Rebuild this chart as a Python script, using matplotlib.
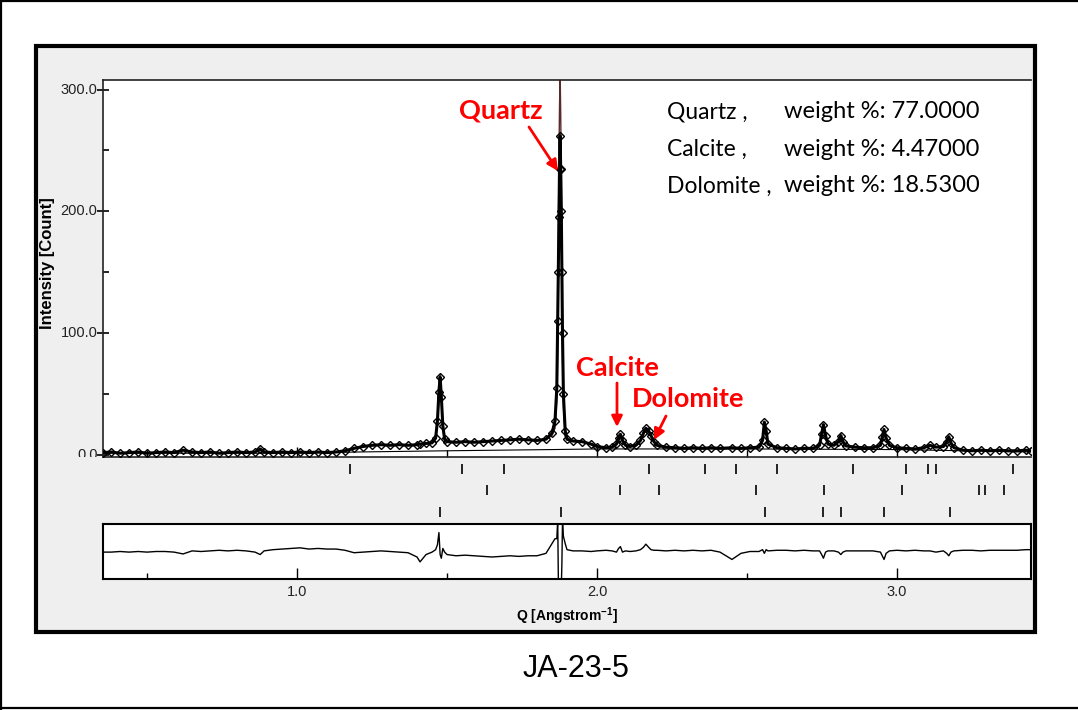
import matplotlib
matplotlib.use("Agg")
import matplotlib.pyplot as plt
from matplotlib.patches import Rectangle, FancyArrowPatch
from matplotlib.lines import Line2D
from matplotlib.transforms import Bbox
from matplotlib.ticker import MultipleLocator
import numpy as np

# ---------------- data ----------------
q_values = [
    0.353, 0.38, 0.41, 0.44, 0.47, 0.50, 0.53, 0.56, 0.59, 0.62, 0.65, 0.68, 0.71, 0.74,
    0.77, 0.80, 0.83, 0.86, 0.877, 0.89, 0.92, 0.95, 0.98, 1.01, 1.04, 1.07, 1.10, 1.13,
    1.16, 1.19, 1.22, 1.25, 1.28, 1.31, 1.34, 1.37, 1.40, 1.41, 1.43, 1.45, 1.462, 1.468,
    1.473, 1.477, 1.481, 1.486, 1.492, 1.50, 1.53, 1.56, 1.59, 1.62, 1.65, 1.68, 1.71,
    1.74, 1.77, 1.80, 1.83, 1.85, 1.86, 1.866, 1.869, 1.871, 1.873, 1.875, 1.877, 1.879,
    1.881, 1.883, 1.885, 1.888, 1.894, 1.90, 1.92, 1.95, 1.98, 2.00, 2.03, 2.05, 2.065,
    2.072, 2.078, 2.085, 2.095, 2.11, 2.13, 2.145, 2.155, 2.163, 2.172, 2.18, 2.19, 2.20,
    2.23, 2.26, 2.29, 2.32, 2.35, 2.38, 2.41, 2.45, 2.48, 2.51, 2.54, 2.552, 2.558, 2.564,
    2.57, 2.60, 2.63, 2.66, 2.69, 2.72, 2.742, 2.749, 2.755, 2.762, 2.77, 2.79, 2.805,
    2.813, 2.82, 2.83, 2.86, 2.89, 2.92, 2.945, 2.951, 2.957, 2.964, 2.975, 3.00, 3.03,
    3.06, 3.09, 3.11, 3.13, 3.155, 3.166, 3.173, 3.18, 3.19, 3.22, 3.25, 3.28, 3.31, 3.34,
    3.37, 3.40, 3.43, 3.447,
]
obs_counts = [
    2.0, 2.5, 1.5, 2.0, 2.5, 1.5, 2.0, 2.5, 2.0, 4.0, 2.5, 2.0, 2.5, 1.5,
    2.0, 2.5, 2.0, 2.5, 5.0, 2.5, 2.0, 2.5, 2.0, 2.5, 2.0, 2.5, 2.0, 2.5,
    3.5, 5.5, 7.0, 8.0, 8.5, 8.0, 8.5, 8.0, 8.5, 9.0, 9.5, 10.0, 14.0, 28.0,
    52.0, 64.0, 48.0, 24.0, 13.0, 11.0, 10.5, 11.0, 10.5, 11.0, 11.5, 12.0, 12.5,
    13.0, 12.5, 12.0, 13.0, 18.0, 28.0, 55.0, 110.0, 150.0, 195.0, 235.0, 262.0, 235.0,
    200.0, 150.0, 100.0, 50.0, 20.0, 13.0, 11.5, 11.0, 9.0, 7.0, 6.0, 6.5, 9.0,
    14.0, 17.0, 12.0, 8.0, 7.0, 8.0, 12.0, 18.0, 22.0, 20.0, 16.0, 11.0, 8.0,
    6.5, 6.0, 5.5, 6.0, 5.5, 6.0, 5.5, 6.0, 5.5, 6.0, 6.5, 12.0, 27.0, 20.0,
    9.0, 6.0, 5.5, 5.0, 5.5, 5.5, 8.0, 17.0, 25.0, 16.0, 9.0, 8.0, 11.0,
    16.0, 11.0, 7.5, 6.5, 6.0, 6.0, 8.0, 15.0, 21.0, 14.0, 8.0, 6.0, 5.5,
    5.0, 6.0, 8.0, 6.5, 7.0, 11.0, 15.0, 10.0, 6.0, 4.0, 3.5, 4.0, 3.5, 4.0,
    3.5, 3.5, 4.0, 3.5,
]
calc_counts = [
    2.0, 2.5, 1.5, 2.0, 2.5, 1.5, 2.0, 2.5, 2.0, 4.0, 2.5, 2.0, 2.5, 1.5,
    2.0, 2.5, 2.0, 2.5, 5.0, 2.5, 2.0, 2.5, 2.0, 2.5, 2.0, 2.5, 2.0, 2.5,
    3.5, 5.5, 7.0, 8.0, 8.5, 8.0, 8.5, 8.0, 8.5, 9.0, 9.5, 10.0, 13.0, 25.0,
    45.0, 66.0, 50.0, 22.0, 13.0, 11.0, 10.5, 11.0, 10.5, 11.0, 11.5, 12.0, 12.5,
    13.0, 12.5, 12.0, 13.0, 16.0, 22.0, 45.0, 85.0, 170.0, 240.0, 285.0, 315.0, 280.0,
    235.0, 165.0, 80.0, 40.0, 15.0, 13.0, 11.5, 11.0, 9.0, 7.0, 6.0, 6.5, 9.0,
    14.0, 17.0, 12.0, 8.0, 7.0, 8.0, 12.0, 18.0, 22.0, 20.0, 16.0, 11.0, 8.0,
    6.5, 6.0, 5.5, 6.0, 5.5, 6.0, 5.5, 6.0, 5.5, 6.0, 6.5, 12.0, 27.0, 20.0,
    9.0, 6.0, 5.5, 5.0, 5.5, 5.5, 8.0, 17.0, 25.0, 16.0, 9.0, 8.0, 11.0,
    16.0, 11.0, 7.5, 6.5, 6.0, 6.0, 8.0, 15.0, 21.0, 14.0, 8.0, 6.0, 5.5,
    5.0, 6.0, 8.0, 6.5, 7.0, 11.0, 15.0, 10.0, 6.0, 4.0, 3.5, 4.0, 3.5, 4.0,
    3.5, 3.5, 4.0, 3.5,
]
diff_counts = [
    -1.0, -1.0, -0.5, -1.0, -0.5, -1.0, -0.5, -0.5, -1.0, -2.5, 0.0, -0.5, 0.0, 0.5,
    0.0, 0.5, 0.0, -1.0, -3.0, 0.0, 1.0, 1.5, 2.0, 2.5, 1.5, 2.0, 1.5, 1.5,
    0.5, -1.5, -1.0, -0.5, 0.0, -0.5, -1.0, -1.5, -5.0, -9.0, -3.0, -1.0, 1.0, 5.0,
    15.0, -3.0, -6.0, 2.0, -1.0, -3.0, -4.0, -3.5, -4.0, -4.5, -5.0, -4.5, -4.0,
    -4.5, -4.0, -4.0, -2.0, 6.0, 10.0, 10.0, 25.0, -20.0, -45.0, -45.0, -53.0, -40.0,
    -30.0, -10.0, 25.0, 12.0, 6.0, 1.0, 0.0, 0.0, -0.5, 0.0, 0.5, 0.0, -1.0,
    2.0, 3.5, -1.0, 0.0, -0.5, 0.0, 1.0, 3.0, 5.5, 3.0, 1.0, 0.5, 0.5,
    0.0, 0.5, 0.0, 0.5, 0.0, 0.5, -1.0, -7.0, -2.0, -0.5, -0.5, 1.0, -2.0, 1.0,
    0.0, 0.5, 0.5, 0.0, 0.5, 0.0, 0.0, -3.0, -6.0, -1.0, 0.0, 0.0, -1.0,
    -3.0, -1.0, 0.0, 0.0, 0.0, 0.0, -1.0, -4.0, -7.0, -2.0, 0.0, 0.5, 0.0,
    0.5, 0.0, 0.0, -1.0, 0.0, -2.0, -4.0, -1.0, 0.0, 0.5, 0.5, 0.0, 0.5, 0.5,
    0.5, 0.5, 1.0, 1.0,
]
background_q = [0.353, 1.0, 1.2, 1.5, 1.85, 2.0, 2.5, 3.0, 3.447]
background_counts = [1.5, 1.5, 2.5, 3.5, 4.5, 5.0, 5.0, 4.5, 2.5]

# reflection positions for each phase (Q, 1/Angstrom)
dolomite_q = [1.177, 1.550, 1.690, 2.173, 2.360, 2.463, 2.600, 2.853, 3.030, 3.103, 3.130, 3.387]
calcite_q = [1.633, 2.077, 2.207, 2.530, 2.757, 3.017, 3.273, 3.293, 3.357]
quartz_q = [1.477, 1.880, 2.560, 2.753, 2.813, 2.957, 3.177]

phase_names = ["Quartz ,", "Calcite ,", "Dolomite ,"]
phase_weights = ["77.0000", "4.47000", "18.5300"]

y_ticks = [0.0, 100.0, 200.0, 300.0]
x_ticks = [1.0, 2.0, 3.0]

q_arr = np.array(q_values)
obs = np.array(obs_counts)
calc = np.array(calc_counts)
diff = np.array(diff_counts)

# ---------------- figure ----------------
W, H = 1078, 710
fig = plt.figure(figsize=(W / 100, H / 100), dpi=100)
fig.patch.set_facecolor("white")


def fx(x):
    return x / W


def fy(y):
    return 1 - y / H


def box(x0, y0, x1, y1):
    return [fx(x0), fy(y1), (x1 - x0) / W, (y1 - y0) / H]


narrow = ["Liberation Sans Narrow", "Liberation Sans", "DejaVu Sans"]
sans = ["Liberation Sans", "DejaVu Sans"]
label_font = ["Lato", "DejaVu Sans"]
plt.rcParams["mathtext.fontset"] = "custom"
plt.rcParams["mathtext.rm"] = "Liberation Sans"
plt.rcParams["mathtext.bf"] = "Liberation Sans:bold"

# outer page border (left, top, bottom)
for xs, ys in [([fx(1), fx(1)], [fy(0), fy(709)]),
               ([0, 1], [fy(1), fy(1)]),
               ([0, 1], [fy(708), fy(708)])]:
    fig.add_artist(Line2D(xs, ys, color="black", lw=1.6, transform=fig.transFigure))

# grey panel with heavy frame
fig.add_artist(Rectangle((fx(36), fy(632)), (1035 - 36) / W, (632 - 46) / H,
                         transform=fig.transFigure, facecolor="#efefef",
                         edgecolor="black", lw=3.0, zorder=0))

xlim = (0.353, 3.447)

# ---- main pattern panel ----
ax = fig.add_axes(box(103, 80, 1031, 457))
ax.set_facecolor("white")
ax.set_xlim(*xlim)
ax.set_ylim(-1.6, 307.8)
ax.plot(background_q, background_counts, color="black", lw=0.8, zorder=2)
ax.plot(q_arr, calc, color="#5a2a2a", lw=1.0, zorder=2.5)
ax.plot(q_arr, obs, color="black", lw=2.2, solid_joinstyle="round", zorder=3)
ax.plot(q_arr, obs, ls="none", marker="D", ms=4.0, mfc="none", mec="black",
        mew=1.0, zorder=3)
for side in ["left", "top", "bottom"]:
    ax.spines[side].set_color("#222222")
    ax.spines[side].set_linewidth(1.2)
ax.spines["right"].set_visible(False)
ax.yaxis.set_major_locator(MultipleLocator(100))
ax.yaxis.set_minor_locator(MultipleLocator(50))
ax.xaxis.set_major_locator(MultipleLocator(1.0))
ax.xaxis.set_minor_locator(MultipleLocator(0.5))
ax.tick_params(axis="y", which="major", direction="inout", length=8.5, width=1.2,
               labelleft=False)
ax.tick_params(axis="y", which="minor", direction="in", length=4.5, width=1.2)
ax.tick_params(axis="x", which="major", direction="in", length=7, width=1.0,
               labelbottom=False)
ax.tick_params(axis="x", which="minor", direction="in", length=5, width=1.0)

clip = Bbox([[0, H - 457], [W, H]])
for v in y_ticks:
    t = ax.text(-0.006, v, f"{v:.1f}", transform=ax.get_yaxis_transform(),
                ha="right", va="center", fontsize=10.5, family=narrow, color="#222222")
    t.set_clip_box(clip)
    t.set_clip_on(True)

fig.text(fx(48), fy(263), "Intensity [Count]", rotation=90, ha="center", va="center",
         fontsize=12, fontweight="bold", family=sans)

# phase weight fractions
for i, (name, wt) in enumerate(zip(phase_names, phase_weights)):
    yy = fy(112 + 37 * i)
    fig.text(fx(667), yy, name, ha="left", va="center", fontsize=16.5, family=label_font)
    fig.text(fx(784), yy, f"weight %: {wt}", ha="left", va="center", fontsize=17,
             family=label_font)

# peak annotations
red_font = dict(color="red", fontsize=19.5, fontweight="bold", family=label_font)
arrow = dict(arrowstyle="-|>", color="red", lw=2.0, mutation_scale=16, shrinkA=0, shrinkB=0)
fig.text(fx(501), fy(110), "Quartz", ha="center", va="center", **red_font)
fig.add_artist(FancyArrowPatch((fx(529), fy(127)), (fx(558), fy(171)),
                               transform=fig.transFigure, **arrow))
fig.text(fx(617), fy(368), "Calcite", ha="center", va="center", **red_font)
fig.add_artist(FancyArrowPatch((fx(617), fy(383)), (fx(617), fy(427)),
                               transform=fig.transFigure, **arrow))
fig.text(fx(688), fy(399), "Dolomite", ha="center", va="center", **red_font)
fig.add_artist(FancyArrowPatch((fx(666), fy(416)), (fx(654), fy(440)),
                               transform=fig.transFigure, **arrow))

# ---- reflection markers ----
axm = fig.add_axes(box(103, 458, 1031, 520))
axm.set_xlim(*xlim)
axm.set_ylim(520, 458)
axm.axis("off")
for qs, yc in [(dolomite_q, 469), (calcite_q, 490), (quartz_q, 512)]:
    axm.vlines(qs, yc - 5, yc + 5, color="black", lw=1.2)

# ---- difference panel ----
axd = fig.add_axes(box(103, 524, 1031, 579))
axd.set_facecolor("white")
axd.set_xlim(*xlim)
axd.set_ylim(-23, 22)
axd.plot(q_arr, diff, color="black", lw=1.0)
for s in axd.spines.values():
    s.set_linewidth(1.5)
    s.set_color("black")
axd.set_yticks([])
axd.xaxis.set_minor_locator(MultipleLocator(0.5))
axd.set_xticks(x_ticks)
axd.set_xticklabels([f"{v:.1f}" for v in x_ticks], family=narrow, fontsize=10.5,
                    color="#222222")
axd.tick_params(axis="x", which="major", direction="in", length=8, width=1.0, pad=4)
axd.tick_params(axis="x", which="minor", direction="in", length=4.5, width=1.0)

fig.text(fx(567), fy(616), r"Q [Angstrom$^{\mathbf{-1}}$]", ha="center", va="center",
         fontsize=10, fontweight="bold", family=sans)

fig.text(fx(576), fy(669), "JA-23-5", ha="center", va="center", fontsize=22, family=sans)

fig.savefig("out.png", dpi=100)
